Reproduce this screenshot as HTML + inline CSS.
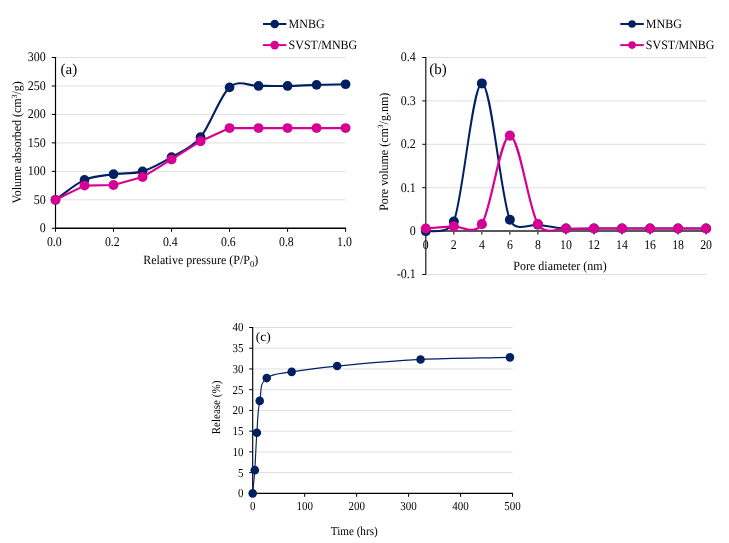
<!DOCTYPE html>
<html lang="en"><head><meta charset="utf-8"><title>Figure</title>
<style>
html,body{margin:0;padding:0;background:#fff;}
body{width:729px;height:543px;overflow:hidden;font-family:"Liberation Serif", "DejaVu Serif", serif;}
svg{display:block;will-change:transform;transform:translateZ(0);text-rendering:geometricPrecision;}
</style></head><body>
<svg width="729" height="543" viewBox="0 0 729 543" style='font-family:"Liberation Serif", "DejaVu Serif", serif' fill="#000000">
<line x1="55.50" y1="199.83" x2="345.60" y2="199.83" stroke="#dfdfdf" stroke-width="1"/>
<line x1="55.50" y1="171.37" x2="345.60" y2="171.37" stroke="#dfdfdf" stroke-width="1"/>
<line x1="55.50" y1="142.90" x2="345.60" y2="142.90" stroke="#dfdfdf" stroke-width="1"/>
<line x1="55.50" y1="114.43" x2="345.60" y2="114.43" stroke="#dfdfdf" stroke-width="1"/>
<line x1="55.50" y1="85.97" x2="345.60" y2="85.97" stroke="#dfdfdf" stroke-width="1"/>
<line x1="55.50" y1="57.50" x2="345.60" y2="57.50" stroke="#dfdfdf" stroke-width="1"/>
<line x1="51.80" y1="228.30" x2="55.50" y2="228.30" stroke="#000000" stroke-width="1"/>
<text transform="translate(45.80,232.10) scale(1.0,1.1)" font-size="12" text-anchor="end">0</text>
<line x1="51.80" y1="199.83" x2="55.50" y2="199.83" stroke="#000000" stroke-width="1"/>
<text transform="translate(45.80,203.63) scale(1.0,1.1)" font-size="12" text-anchor="end">50</text>
<line x1="51.80" y1="171.37" x2="55.50" y2="171.37" stroke="#000000" stroke-width="1"/>
<text transform="translate(45.80,175.17) scale(1.0,1.1)" font-size="12" text-anchor="end">100</text>
<line x1="51.80" y1="142.90" x2="55.50" y2="142.90" stroke="#000000" stroke-width="1"/>
<text transform="translate(45.80,146.70) scale(1.0,1.1)" font-size="12" text-anchor="end">150</text>
<line x1="51.80" y1="114.43" x2="55.50" y2="114.43" stroke="#000000" stroke-width="1"/>
<text transform="translate(45.80,118.23) scale(1.0,1.1)" font-size="12" text-anchor="end">200</text>
<line x1="51.80" y1="85.97" x2="55.50" y2="85.97" stroke="#000000" stroke-width="1"/>
<text transform="translate(45.80,89.77) scale(1.0,1.1)" font-size="12" text-anchor="end">250</text>
<line x1="51.80" y1="57.50" x2="55.50" y2="57.50" stroke="#000000" stroke-width="1"/>
<text transform="translate(45.80,61.30) scale(1.0,1.1)" font-size="12" text-anchor="end">300</text>
<line x1="55.50" y1="228.30" x2="55.50" y2="231.80" stroke="#000000" stroke-width="1"/>
<text transform="translate(54.30,246.40) scale(0.985,1.1)" font-size="12" text-anchor="middle">0.0</text>
<line x1="113.52" y1="228.30" x2="113.52" y2="231.80" stroke="#000000" stroke-width="1"/>
<text transform="translate(112.32,246.40) scale(0.985,1.1)" font-size="12" text-anchor="middle">0.2</text>
<line x1="171.54" y1="228.30" x2="171.54" y2="231.80" stroke="#000000" stroke-width="1"/>
<text transform="translate(170.34,246.40) scale(0.985,1.1)" font-size="12" text-anchor="middle">0.4</text>
<line x1="229.56" y1="228.30" x2="229.56" y2="231.80" stroke="#000000" stroke-width="1"/>
<text transform="translate(228.36,246.40) scale(0.985,1.1)" font-size="12" text-anchor="middle">0.6</text>
<line x1="287.58" y1="228.30" x2="287.58" y2="231.80" stroke="#000000" stroke-width="1"/>
<text transform="translate(286.38,246.40) scale(0.985,1.1)" font-size="12" text-anchor="middle">0.8</text>
<line x1="345.60" y1="228.30" x2="345.60" y2="231.80" stroke="#000000" stroke-width="1"/>
<text transform="translate(344.40,246.40) scale(0.985,1.1)" font-size="12" text-anchor="middle">1.0</text>
<line x1="55.50" y1="57.00" x2="55.50" y2="228.30" stroke="#000000" stroke-width="1.2"/>
<line x1="55.50" y1="228.30" x2="346.10" y2="228.30" stroke="#000000" stroke-width="1.4"/>
<text transform="translate(200.70,263.60) scale(1.0,1.06)" font-size="12" text-anchor="middle">Relative pressure (P/P<tspan font-size="8.5" dy="3">0</tspan><tspan dy="-3">)</tspan></text>
<text transform="translate(21.40,142.30) rotate(-90) scale(1.0,1.06)" font-size="12" text-anchor="middle">Volume absorbed (cm<tspan font-size="7.5" dy="-4">3</tspan><tspan dy="4">/g)</tspan></text>
<text transform="translate(60.60,74.30) scale(1,1)" font-size="15" text-anchor="start">(a)</text>
<path d="M55.50,199.83 C65.17,193.19 74.84,184.18 84.51,179.91 C94.18,175.64 103.85,175.64 113.52,174.21 C123.19,172.79 132.86,174.21 142.53,171.37 C152.20,168.52 161.87,162.83 171.54,157.13 C181.21,151.44 190.88,148.83 200.55,137.21 C210.22,125.58 219.89,95.93 229.56,87.39 C239.23,78.85 248.90,86.20 258.57,85.97 C268.24,85.73 277.91,86.16 287.58,85.97 C297.25,85.78 306.92,85.11 316.59,84.83 C326.26,84.54 335.93,84.45 345.60,84.26" fill="none" stroke="#002060" stroke-width="2.1" stroke-linecap="round" stroke-linejoin="round"/>
<circle cx="55.50" cy="199.83" r="4.85" fill="#002060"/>
<circle cx="84.51" cy="179.91" r="4.85" fill="#002060"/>
<circle cx="113.52" cy="174.21" r="4.85" fill="#002060"/>
<circle cx="142.53" cy="171.37" r="4.85" fill="#002060"/>
<circle cx="171.54" cy="157.13" r="4.85" fill="#002060"/>
<circle cx="200.55" cy="137.21" r="4.85" fill="#002060"/>
<circle cx="229.56" cy="87.39" r="4.85" fill="#002060"/>
<circle cx="258.57" cy="85.97" r="4.85" fill="#002060"/>
<circle cx="287.58" cy="85.97" r="4.85" fill="#002060"/>
<circle cx="316.59" cy="84.83" r="4.85" fill="#002060"/>
<circle cx="345.60" cy="84.26" r="4.85" fill="#002060"/>
<path d="M55.50,199.83 L84.51,185.60 L113.52,185.03 L142.53,177.06 L171.54,159.41 L200.55,141.19 L229.56,128.10 L258.57,128.10 L287.58,128.10 L316.59,128.10 L345.60,128.10" fill="none" stroke="#d60093" stroke-width="2.15" stroke-linecap="round" stroke-linejoin="round"/>
<circle cx="55.50" cy="199.83" r="4.95" fill="#d60093"/>
<circle cx="84.51" cy="185.60" r="4.95" fill="#d60093"/>
<circle cx="113.52" cy="185.03" r="4.95" fill="#d60093"/>
<circle cx="142.53" cy="177.06" r="4.95" fill="#d60093"/>
<circle cx="171.54" cy="159.41" r="4.95" fill="#d60093"/>
<circle cx="200.55" cy="141.19" r="4.95" fill="#d60093"/>
<circle cx="229.56" cy="128.10" r="4.95" fill="#d60093"/>
<circle cx="258.57" cy="128.10" r="4.95" fill="#d60093"/>
<circle cx="287.58" cy="128.10" r="4.95" fill="#d60093"/>
<circle cx="316.59" cy="128.10" r="4.95" fill="#d60093"/>
<circle cx="345.60" cy="128.10" r="4.95" fill="#d60093"/>
<line x1="263.00" y1="24.00" x2="286.40" y2="24.00" stroke="#002060" stroke-width="2"/>
<circle cx="274.70" cy="24.00" r="4.3" fill="#002060"/>
<text transform="translate(288.60,28.00) scale(1.0,1.06)" font-size="12" text-anchor="start">MNBG</text>
<line x1="263.00" y1="45.10" x2="286.40" y2="45.10" stroke="#d60093" stroke-width="2"/>
<circle cx="274.70" cy="45.10" r="4.3" fill="#d60093"/>
<text transform="translate(288.60,49.10) scale(1.0,1.06)" font-size="12" text-anchor="start">SVST/MNBG</text>
<line x1="425.80" y1="274.50" x2="706.10" y2="274.50" stroke="#dfdfdf" stroke-width="1"/>
<line x1="425.80" y1="187.70" x2="706.10" y2="187.70" stroke="#dfdfdf" stroke-width="1"/>
<line x1="425.80" y1="144.30" x2="706.10" y2="144.30" stroke="#dfdfdf" stroke-width="1"/>
<line x1="425.80" y1="100.90" x2="706.10" y2="100.90" stroke="#dfdfdf" stroke-width="1"/>
<line x1="425.80" y1="57.50" x2="706.10" y2="57.50" stroke="#dfdfdf" stroke-width="1"/>
<line x1="422.30" y1="274.50" x2="425.80" y2="274.50" stroke="#000000" stroke-width="1"/>
<text transform="translate(415.80,278.30) scale(1.0,1.1)" font-size="12" text-anchor="end">-0.1</text>
<line x1="422.30" y1="231.10" x2="425.80" y2="231.10" stroke="#000000" stroke-width="1"/>
<text transform="translate(415.80,234.90) scale(1.0,1.1)" font-size="12" text-anchor="end">0</text>
<line x1="422.30" y1="187.70" x2="425.80" y2="187.70" stroke="#000000" stroke-width="1"/>
<text transform="translate(415.80,191.50) scale(1.0,1.1)" font-size="12" text-anchor="end">0.1</text>
<line x1="422.30" y1="144.30" x2="425.80" y2="144.30" stroke="#000000" stroke-width="1"/>
<text transform="translate(415.80,148.10) scale(1.0,1.1)" font-size="12" text-anchor="end">0.2</text>
<line x1="422.30" y1="100.90" x2="425.80" y2="100.90" stroke="#000000" stroke-width="1"/>
<text transform="translate(415.80,104.70) scale(1.0,1.1)" font-size="12" text-anchor="end">0.3</text>
<line x1="422.30" y1="57.50" x2="425.80" y2="57.50" stroke="#000000" stroke-width="1"/>
<text transform="translate(415.80,61.30) scale(1.0,1.1)" font-size="12" text-anchor="end">0.4</text>
<line x1="425.80" y1="231.10" x2="425.80" y2="234.60" stroke="#000000" stroke-width="1"/>
<text transform="translate(425.80,248.80) scale(0.985,1.1)" font-size="12" text-anchor="middle">0</text>
<line x1="453.83" y1="231.10" x2="453.83" y2="234.60" stroke="#000000" stroke-width="1"/>
<text transform="translate(453.83,248.80) scale(0.985,1.1)" font-size="12" text-anchor="middle">2</text>
<line x1="481.86" y1="231.10" x2="481.86" y2="234.60" stroke="#000000" stroke-width="1"/>
<text transform="translate(481.86,248.80) scale(0.985,1.1)" font-size="12" text-anchor="middle">4</text>
<line x1="509.89" y1="231.10" x2="509.89" y2="234.60" stroke="#000000" stroke-width="1"/>
<text transform="translate(509.89,248.80) scale(0.985,1.1)" font-size="12" text-anchor="middle">6</text>
<line x1="537.92" y1="231.10" x2="537.92" y2="234.60" stroke="#000000" stroke-width="1"/>
<text transform="translate(537.92,248.80) scale(0.985,1.1)" font-size="12" text-anchor="middle">8</text>
<line x1="565.95" y1="231.10" x2="565.95" y2="234.60" stroke="#000000" stroke-width="1"/>
<text transform="translate(565.95,248.80) scale(0.985,1.1)" font-size="12" text-anchor="middle">10</text>
<line x1="593.98" y1="231.10" x2="593.98" y2="234.60" stroke="#000000" stroke-width="1"/>
<text transform="translate(593.98,248.80) scale(0.985,1.1)" font-size="12" text-anchor="middle">12</text>
<line x1="622.01" y1="231.10" x2="622.01" y2="234.60" stroke="#000000" stroke-width="1"/>
<text transform="translate(622.01,248.80) scale(0.985,1.1)" font-size="12" text-anchor="middle">14</text>
<line x1="650.04" y1="231.10" x2="650.04" y2="234.60" stroke="#000000" stroke-width="1"/>
<text transform="translate(650.04,248.80) scale(0.985,1.1)" font-size="12" text-anchor="middle">16</text>
<line x1="678.07" y1="231.10" x2="678.07" y2="234.60" stroke="#000000" stroke-width="1"/>
<text transform="translate(678.07,248.80) scale(0.985,1.1)" font-size="12" text-anchor="middle">18</text>
<line x1="706.10" y1="231.10" x2="706.10" y2="234.60" stroke="#000000" stroke-width="1"/>
<text transform="translate(706.10,248.80) scale(0.985,1.1)" font-size="12" text-anchor="middle">20</text>
<line x1="425.80" y1="57.00" x2="425.80" y2="275.00" stroke="#1a1a1a" stroke-width="1.2"/>
<line x1="425.80" y1="231.10" x2="706.10" y2="231.10" stroke="#595959" stroke-width="2"/>
<text transform="translate(560.00,269.60) scale(1.0,1.06)" font-size="12" text-anchor="middle">Pore diameter (nm)</text>
<text transform="translate(387.50,151.80) rotate(-90) scale(1.0,1.06)" font-size="12" text-anchor="middle">Pore volume (cm<tspan font-size="7.5" dy="-4">3</tspan><tspan dy="4">/g.nm)</tspan></text>
<text transform="translate(429.30,74.30) scale(1,1)" font-size="15" text-anchor="start">(b)</text>
<path d="M425.80,231.10 C428.43,230.21 448.58,235.39 453.83,221.55 C463.17,196.94 472.52,83.70 481.86,83.41 C491.20,83.12 500.55,196.29 509.89,219.82 C515.14,233.03 532.67,223.78 537.92,224.59 C547.26,226.04 556.61,227.84 565.95,228.50 C575.29,229.15 584.64,228.50 593.98,228.50 C603.32,228.50 612.67,228.50 622.01,228.50 C631.35,228.50 640.70,228.50 650.04,228.50 C659.38,228.50 668.73,228.50 678.07,228.50 C687.41,228.50 696.76,228.50 706.10,228.50" fill="none" stroke="#002060" stroke-width="2.0" stroke-linecap="round" stroke-linejoin="round"/>
<circle cx="425.80" cy="231.10" r="5.0" fill="#002060"/>
<circle cx="453.83" cy="221.55" r="5.0" fill="#002060"/>
<circle cx="481.86" cy="83.41" r="5.0" fill="#002060"/>
<circle cx="509.89" cy="219.82" r="5.0" fill="#002060"/>
<circle cx="537.92" cy="224.59" r="5.0" fill="#002060"/>
<circle cx="565.95" cy="228.50" r="5.0" fill="#002060"/>
<circle cx="593.98" cy="228.50" r="5.0" fill="#002060"/>
<circle cx="622.01" cy="228.50" r="5.0" fill="#002060"/>
<circle cx="650.04" cy="228.50" r="5.0" fill="#002060"/>
<circle cx="678.07" cy="228.50" r="5.0" fill="#002060"/>
<circle cx="706.10" cy="228.50" r="5.0" fill="#002060"/>
<path d="M425.80,228.50 C435.14,227.77 444.49,227.05 453.83,226.33 C461.22,225.75 474.47,236.11 481.86,224.16 C491.20,209.04 500.55,135.62 509.89,135.62 C519.23,135.62 528.58,208.68 537.92,224.16 C545.25,236.30 558.62,227.93 565.95,228.50 C575.29,229.22 584.64,228.50 593.98,228.50 C603.32,228.50 612.67,228.50 622.01,228.50 C631.35,228.50 640.70,228.50 650.04,228.50 C659.38,228.50 668.73,228.50 678.07,228.50 C687.41,228.50 696.76,228.50 706.10,228.50" fill="none" stroke="#d60093" stroke-width="2.2" stroke-linecap="round" stroke-linejoin="round"/>
<circle cx="425.80" cy="228.50" r="5.05" fill="#d60093"/>
<circle cx="453.83" cy="226.33" r="5.05" fill="#d60093"/>
<circle cx="481.86" cy="224.16" r="5.05" fill="#d60093"/>
<circle cx="509.89" cy="135.62" r="5.05" fill="#d60093"/>
<circle cx="537.92" cy="224.16" r="5.05" fill="#d60093"/>
<circle cx="565.95" cy="228.50" r="5.05" fill="#d60093"/>
<circle cx="593.98" cy="228.50" r="5.05" fill="#d60093"/>
<circle cx="622.01" cy="228.50" r="5.05" fill="#d60093"/>
<circle cx="650.04" cy="228.50" r="5.05" fill="#d60093"/>
<circle cx="678.07" cy="228.50" r="5.05" fill="#d60093"/>
<circle cx="706.10" cy="228.50" r="5.05" fill="#d60093"/>
<line x1="620.30" y1="24.00" x2="643.80" y2="24.00" stroke="#002060" stroke-width="2"/>
<circle cx="632.05" cy="24.00" r="3.8" fill="#002060"/>
<text transform="translate(645.80,28.00) scale(1.0,1.06)" font-size="12" text-anchor="start">MNBG</text>
<line x1="620.30" y1="45.10" x2="643.80" y2="45.10" stroke="#d60093" stroke-width="2"/>
<circle cx="632.05" cy="45.10" r="3.8" fill="#d60093"/>
<text transform="translate(645.80,49.10) scale(1.0,1.06)" font-size="12" text-anchor="start">SVST/MNBG</text>
<line x1="252.70" y1="472.62" x2="512.55" y2="472.62" stroke="#dfdfdf" stroke-width="1"/>
<line x1="252.70" y1="451.89" x2="512.55" y2="451.89" stroke="#dfdfdf" stroke-width="1"/>
<line x1="252.70" y1="431.16" x2="512.55" y2="431.16" stroke="#dfdfdf" stroke-width="1"/>
<line x1="252.70" y1="410.43" x2="512.55" y2="410.43" stroke="#dfdfdf" stroke-width="1"/>
<line x1="252.70" y1="389.69" x2="512.55" y2="389.69" stroke="#dfdfdf" stroke-width="1"/>
<line x1="252.70" y1="368.96" x2="512.55" y2="368.96" stroke="#dfdfdf" stroke-width="1"/>
<line x1="252.70" y1="348.23" x2="512.55" y2="348.23" stroke="#dfdfdf" stroke-width="1"/>
<line x1="252.70" y1="327.50" x2="512.55" y2="327.50" stroke="#dfdfdf" stroke-width="1"/>
<line x1="249.20" y1="493.35" x2="252.70" y2="493.35" stroke="#000000" stroke-width="1"/>
<text transform="translate(243.60,497.25) scale(1.0,1.11)" font-size="11" text-anchor="end">0</text>
<line x1="249.20" y1="472.62" x2="252.70" y2="472.62" stroke="#000000" stroke-width="1"/>
<text transform="translate(243.60,476.52) scale(1.0,1.11)" font-size="11" text-anchor="end">5</text>
<line x1="249.20" y1="451.89" x2="252.70" y2="451.89" stroke="#000000" stroke-width="1"/>
<text transform="translate(243.60,455.79) scale(1.0,1.11)" font-size="11" text-anchor="end">10</text>
<line x1="249.20" y1="431.16" x2="252.70" y2="431.16" stroke="#000000" stroke-width="1"/>
<text transform="translate(243.60,435.06) scale(1.0,1.11)" font-size="11" text-anchor="end">15</text>
<line x1="249.20" y1="410.43" x2="252.70" y2="410.43" stroke="#000000" stroke-width="1"/>
<text transform="translate(243.60,414.32) scale(1.0,1.11)" font-size="11" text-anchor="end">20</text>
<line x1="249.20" y1="389.69" x2="252.70" y2="389.69" stroke="#000000" stroke-width="1"/>
<text transform="translate(243.60,393.59) scale(1.0,1.11)" font-size="11" text-anchor="end">25</text>
<line x1="249.20" y1="368.96" x2="252.70" y2="368.96" stroke="#000000" stroke-width="1"/>
<text transform="translate(243.60,372.86) scale(1.0,1.11)" font-size="11" text-anchor="end">30</text>
<line x1="249.20" y1="348.23" x2="252.70" y2="348.23" stroke="#000000" stroke-width="1"/>
<text transform="translate(243.60,352.13) scale(1.0,1.11)" font-size="11" text-anchor="end">35</text>
<line x1="249.20" y1="327.50" x2="252.70" y2="327.50" stroke="#000000" stroke-width="1"/>
<text transform="translate(243.60,331.40) scale(1.0,1.11)" font-size="11" text-anchor="end">40</text>
<line x1="252.70" y1="493.35" x2="252.70" y2="496.85" stroke="#000000" stroke-width="1"/>
<text transform="translate(252.70,509.90) scale(1.0,1.11)" font-size="11" text-anchor="middle">0</text>
<line x1="304.67" y1="493.35" x2="304.67" y2="496.85" stroke="#000000" stroke-width="1"/>
<text transform="translate(304.67,509.90) scale(1.0,1.11)" font-size="11" text-anchor="middle">100</text>
<line x1="356.64" y1="493.35" x2="356.64" y2="496.85" stroke="#000000" stroke-width="1"/>
<text transform="translate(356.64,509.90) scale(1.0,1.11)" font-size="11" text-anchor="middle">200</text>
<line x1="408.61" y1="493.35" x2="408.61" y2="496.85" stroke="#000000" stroke-width="1"/>
<text transform="translate(408.61,509.90) scale(1.0,1.11)" font-size="11" text-anchor="middle">300</text>
<line x1="460.58" y1="493.35" x2="460.58" y2="496.85" stroke="#000000" stroke-width="1"/>
<text transform="translate(460.58,509.90) scale(1.0,1.11)" font-size="11" text-anchor="middle">400</text>
<line x1="512.55" y1="493.35" x2="512.55" y2="496.85" stroke="#000000" stroke-width="1"/>
<text transform="translate(512.55,509.90) scale(1.0,1.11)" font-size="11" text-anchor="middle">500</text>
<line x1="252.70" y1="327.00" x2="252.70" y2="493.35" stroke="#000000" stroke-width="1.15"/>
<line x1="252.70" y1="493.35" x2="513.05" y2="493.35" stroke="#000000" stroke-width="1.35"/>
<text transform="translate(354.20,534.70) scale(1.005,1.09)" font-size="11.1" text-anchor="middle">Time (hrs)</text>
<text transform="translate(219.50,407.50) rotate(-90) scale(1.005,1.09)" font-size="11" text-anchor="middle">Release (%)</text>
<text transform="translate(255.80,341.40) scale(1,1)" font-size="13.5" text-anchor="start">(c)</text>
<path d="M252.70,493.35 C253.39,485.61 254.09,480.22 254.78,470.13 C255.68,457.02 255.79,447.82 256.86,432.81 C258.09,415.50 257.25,414.57 259.72,400.89 C262.10,387.66 259.01,385.10 266.73,378.08 C272.06,373.25 279.94,373.87 291.68,371.86 C303.41,369.86 315.67,368.13 337.15,366.06 C358.63,363.99 391.76,360.88 420.56,359.43 C449.36,357.97 480.16,358.04 509.95,357.35" fill="none" stroke="#002060" stroke-width="1.15" stroke-linecap="round" stroke-linejoin="round"/>
<circle cx="252.70" cy="493.35" r="4.3" fill="#002060"/>
<circle cx="254.78" cy="470.13" r="4.3" fill="#002060"/>
<circle cx="256.86" cy="432.81" r="4.3" fill="#002060"/>
<circle cx="259.72" cy="400.89" r="4.3" fill="#002060"/>
<circle cx="266.73" cy="378.08" r="4.3" fill="#002060"/>
<circle cx="291.68" cy="371.86" r="4.3" fill="#002060"/>
<circle cx="337.15" cy="366.06" r="4.3" fill="#002060"/>
<circle cx="420.56" cy="359.43" r="4.3" fill="#002060"/>
<circle cx="509.95" cy="357.35" r="4.3" fill="#002060"/>
</svg>
</body></html>
